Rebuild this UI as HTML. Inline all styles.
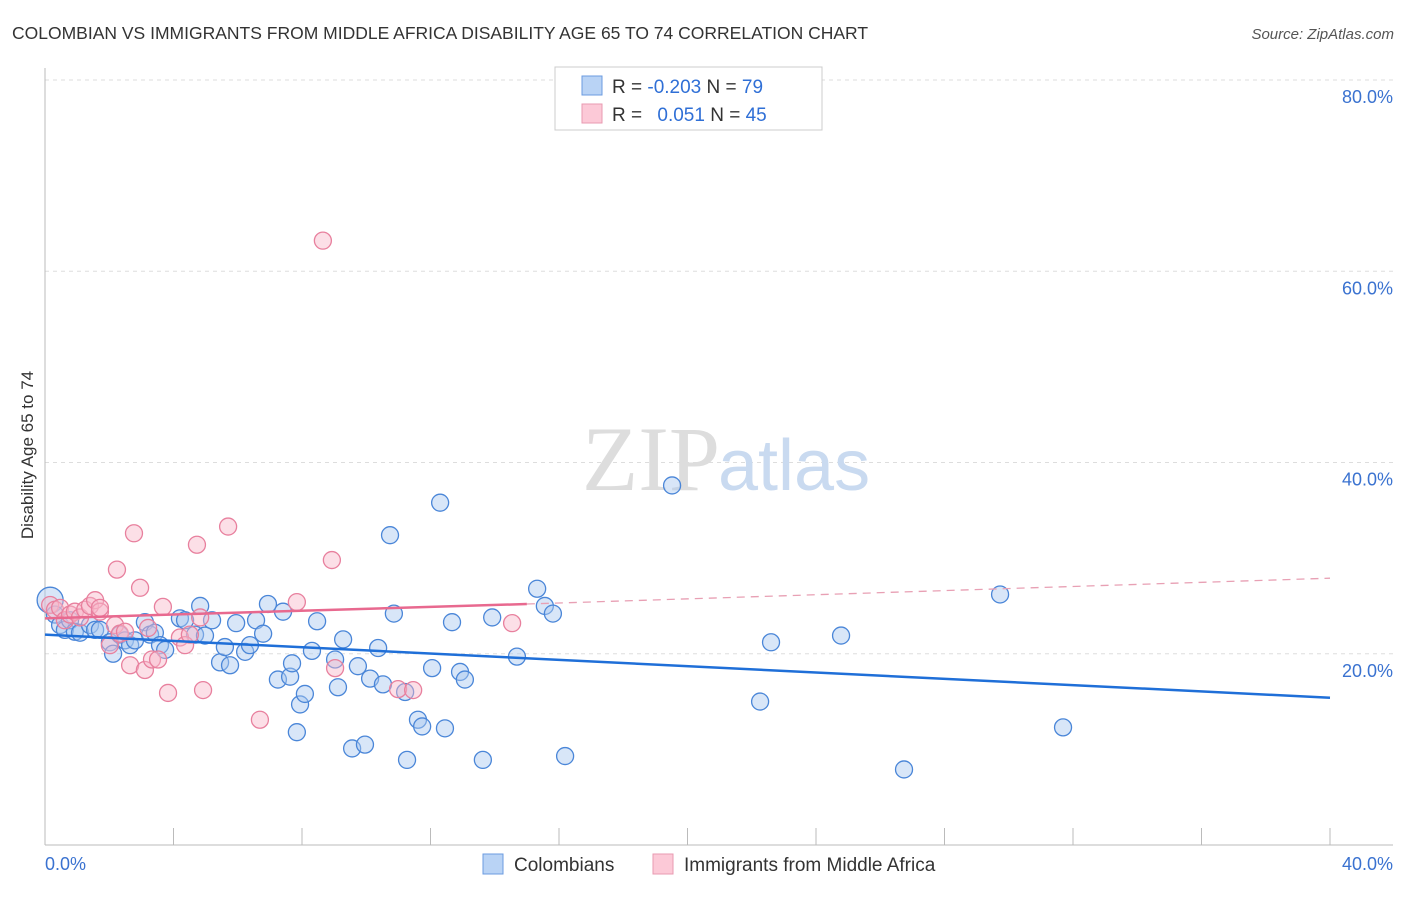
<!DOCTYPE html>
<html><head><meta charset="utf-8"><style>
body{margin:0;background:#fff;font-family:"Liberation Sans",sans-serif}
</style></head><body>
<svg width="1406" height="892" font-family="Liberation Sans, sans-serif">
<text x="12" y="39" font-size="17.5" fill="#333">COLOMBIAN VS IMMIGRANTS FROM MIDDLE AFRICA DISABILITY AGE 65 TO 74 CORRELATION CHART</text>
<text x="1394" y="39" font-size="15" fill="#555" font-style="italic" text-anchor="end">Source: ZipAtlas.com</text>
<g id="grid"></g>
<text x="720" y="490" font-size="92" fill="#ddd" text-anchor="end" font-family="Liberation Serif, serif">ZIP</text>
<text x="718" y="490" font-size="72" fill="#c9daf0">atlas</text>
<g id="marks"></g>
<text transform="translate(33,455) rotate(-90)" font-size="17" fill="#333" text-anchor="middle">Disability Age 65 to 74</text>
<text x="45" y="870" font-size="18" fill="#3a72d0">0.0%</text>
<text x="1393" y="870" font-size="18" fill="#3a72d0" text-anchor="end">40.0%</text>
<g>
<rect x="555" y="67" width="267" height="63" fill="#fff" stroke="#ccc"/>
<rect x="582" y="76" width="20" height="19" fill="#b9d3f5" stroke="#6b9be0"/>
<rect x="582" y="104" width="20" height="19" fill="#fcc9d7" stroke="#e89ab0"/>
<text x="612" y="93" font-size="19" fill="#333">R = <tspan fill="#2f6fd6">-0.203</tspan>   N = <tspan fill="#2f6fd6">79</tspan></text>
<text x="612" y="121" font-size="19" fill="#333">R = <tspan fill="#2f6fd6" dx="10">0.051</tspan>   N = <tspan fill="#2f6fd6">45</tspan></text>
</g>
<g>
<rect x="483" y="854" width="20" height="20" fill="#b9d3f5" stroke="#6b9be0"/>
<text x="514" y="871" font-size="19" fill="#333">Colombians</text>
<rect x="653" y="854" width="20" height="20" fill="#fcc9d7" stroke="#e89ab0"/>
<text x="684" y="871" font-size="19" fill="#333">Immigrants from Middle Africa</text>
</g>
</svg>
<script>
const yTicks=[20,40,60,80];
const yTickLabels=["20.0%","40.0%","60.0%","80.0%"];
const xTicks=[0,4,8,12,16,20,24,28,32,36,40];
const blueX=[0.16,0.31,0.47,0.62,0.78,0.93,1.09,1.40,1.56,1.71,2.02,2.12,2.33,2.49,2.65,2.80,3.11,3.27,3.42,3.58,3.74,4.20,4.36,4.67,4.83,4.98,5.20,5.45,5.60,5.76,5.95,6.23,6.38,6.57,6.79,6.94,7.25,7.41,7.63,7.69,7.94,8.09,8.31,8.47,7.84,9.03,9.12,9.28,9.56,9.74,9.96,10.12,10.37,10.52,10.74,10.86,11.21,11.27,11.61,11.74,12.05,12.30,12.45,12.67,12.92,13.07,13.63,13.92,14.69,15.32,15.56,15.81,16.19,19.52,22.26,22.60,24.78,26.74,29.73,31.69];
const blueY=[25.6,24.1,23.0,22.5,23.5,22.3,22.2,23.0,22.5,22.5,21.2,20.0,22.0,21.4,20.9,21.4,23.3,22.0,22.2,20.9,20.4,23.7,23.5,22.0,25.0,21.9,23.5,19.1,20.7,18.8,23.2,20.2,20.9,23.5,22.1,25.2,17.3,24.4,17.6,19.0,14.7,15.8,20.3,23.4,11.8,19.4,16.5,21.5,10.1,18.7,10.5,17.4,20.6,16.8,32.4,24.2,16.0,8.9,13.1,12.4,18.5,35.8,12.2,23.3,18.1,17.3,8.9,23.8,19.7,26.8,25.0,24.2,9.3,37.6,15.0,21.2,21.9,7.9,26.2,12.3];
const pinkX=[0.16,0.31,0.47,0.62,0.78,0.93,1.09,1.25,1.40,1.56,1.71,1.71,2.02,2.18,2.24,2.33,2.49,2.65,2.77,2.96,3.11,3.21,3.33,3.52,3.67,3.83,4.20,4.36,4.51,4.73,4.83,4.92,5.70,6.69,7.84,8.65,8.93,9.03,10.99,11.46,14.54];
const pinkY=[25.1,24.6,24.8,23.5,24.1,24.4,23.8,24.6,25.0,25.6,24.4,24.8,20.9,23.0,28.8,22.1,22.3,18.8,32.6,26.9,18.3,22.7,19.4,19.4,24.9,15.9,21.7,20.9,22.0,31.4,23.8,16.2,33.3,13.1,25.4,63.2,29.8,18.5,16.3,16.2,23.2];
const blueTrend=[[0,22.0],[40,15.4]];
const pinkTrend=[[0,23.7],[15.0,25.2]];
const pinkTrendExt=[[15.0,25.2],[40,27.9]];
const NS="http://www.w3.org/2000/svg";
const X=v=>45+v/40*1285, Y=v=>845-v/20*191.25;
function mk(t,a,p){const e=document.createElementNS(NS,t);for(const k in a)e.setAttribute(k,a[k]);p.appendChild(e);return e;}
const grid=document.getElementById('grid'),marks=document.getElementById('marks');
yTicks.forEach((t,i)=>{
 const l=mk('line',{x1:45,x2:1393,y1:Y(t),y2:Y(t),stroke:'#ddd','stroke-dasharray':'4,4'},grid);
 
 
 const tx=mk('text',{x:1393,y:Y(t)+23,'font-size':18,fill:'#3a72d0','text-anchor':'end'},grid);
 tx.textContent=yTickLabels[i];
 
 
});
const ax=mk('line',{x1:45,x2:45,y1:68,y2:845,stroke:'#bbb'},grid);


const bx=mk('line',{x1:45,x2:1393,y1:845,y2:845,stroke:'#bbb'},grid);


xTicks.forEach(t=>{
 const l=mk('line',{x1:X(t),x2:X(t),y1:828,y2:845,stroke:'#bbb'},grid);
 
 
});
function dots(xs,ys,fill,stroke,name){
 xs.forEach((x,i)=>{
  const c=mk('circle',{cx:X(x),cy:Y(ys[i]),r:(i===0&&name==='blue-point')?13:8.5,fill:fill,'fill-opacity':0.45,stroke:stroke,'stroke-width':1.3},marks);
  
  
 });
}
dots(blueX,blueY,'#a9c8f0','#4a86d8','blue-point');
dots(pinkX,pinkY,'#f8b8ca','#e8809e','pink-point');
function line(p,color,w,dash,name){
 const l=mk('line',{x1:X(p[0][0]),y1:Y(p[0][1]),x2:X(p[1][0]),y2:Y(p[1][1]),stroke:color,'stroke-width':w},marks);
 if(dash)l.setAttribute('stroke-dasharray',dash);
 
 
}
line(blueTrend,'#1f6fd8',2.5,null,'blue-trend-line');
line(pinkTrend,'#e8698f',2.5,null,'pink-trend-line');
line(pinkTrendExt,'#e8a0b4',1.3,'8,6','pink-trend-extension');
</script>
</body></html>
